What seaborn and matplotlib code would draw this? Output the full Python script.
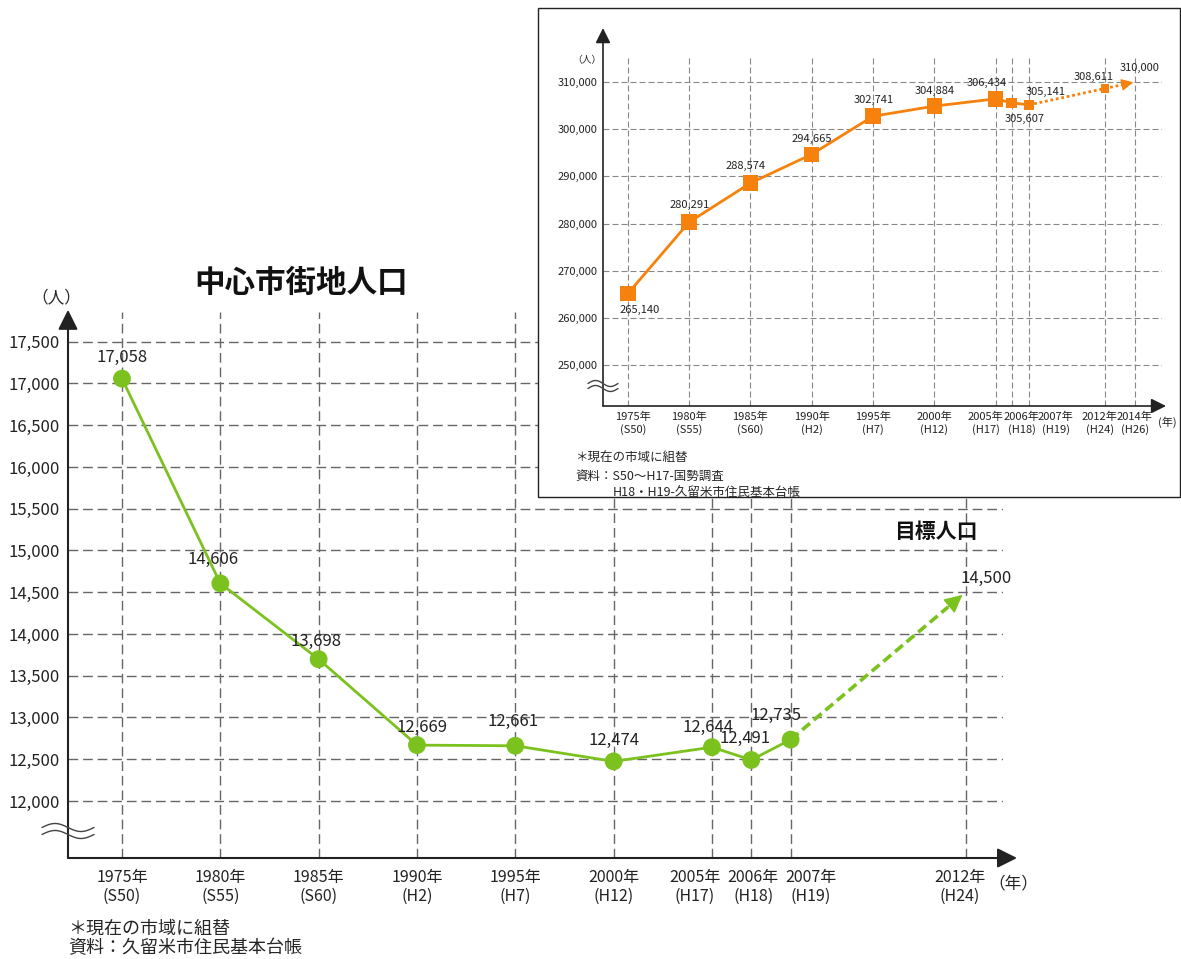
import matplotlib
matplotlib.use("Agg")
import numpy as np
import pandas as pd
import matplotlib.pyplot as plt
from matplotlib.lines import Line2D
from matplotlib.patches import Rectangle
import seaborn as sns

# 中心市街地人口 (main chart)
years = ["1975年", "1980年", "1985年", "1990年", "1995年", "2000年",
         "2005年", "2006年", "2007年", "2012年"]
eras = ["S50", "S55", "S60", "H2", "H7", "H12", "H17", "H18", "H19", "H24"]
pop = [17058, 14606, 13698, 12669, 12661, 12474, 12644, 12491, 12735]
target = 14500  # 2012年 目標人口

# 久留米市人口 (inset)
years_city = ["1975年", "1980年", "1985年", "1990年", "1995年", "2000年",
              "2005年", "2006年", "2007年", "2012年", "2014年"]
eras_city = ["S50", "S55", "S60", "H2", "H7", "H12", "H17", "H18", "H19", "H24", "H26"]
pop_city = [265140, 280291, 288574, 294665, 302741, 304884, 306434, 305607, 305141]
proj_city = [308611, 310000]  # 2012年, 2014年

# the original x axes are not to scale: 5-year steps, then 2006/2007 squeezed in
slot = [0, 1, 2, 3, 4, 5, 6, 6.4, 6.8, 8.58]
slot_city = [0, 1, 2, 3, 4, 5, 6, 6.26, 6.54, 7.78, 8.27]

GREEN = "#7cc21f"
ORANGE = "#f6820d"
W, H = 1181, 959

sns.set_style("white")
plt.rcParams["font.family"] = ["Noto Sans CJK JP", "DejaVu Sans"]

fig = plt.figure(figsize=(W / 100, H / 100), dpi=100)


def px(x, y):
    return x / W, 1 - y / H


def box(l, t, r, b):
    return [l / W, 1 - b / H, (r - l) / W, (b - t) / H]


def wave(cx, cy, w, amp, gap):
    t = np.linspace(-0.5, 0.5, 60)
    for off in (-gap / 2, gap / 2):
        xs = cx + t * w
        ys = cy + off + amp * np.sin(2 * np.pi * t)
        fig.add_artist(Line2D(xs / W, 1 - ys / H, transform=fig.transFigure,
                              color="#444", lw=1, zorder=5))


# ---------------- main chart ----------------
ax = fig.add_axes(box(68, 312, 1003, 858))
ax.set_xlim(-0.549, 8.96)
ax.set_ylim(11317, 17856)
yt = np.arange(12000, 17501, 500)
ax.set_xticks(slot)
ax.set_xticklabels([])
ax.set_yticks(yt)
ax.set_yticklabels([f"{v:,}" for v in yt], fontsize=12, color="#222")
ax.tick_params(length=0, pad=6)
for s in ax.spines.values():
    s.set_visible(False)
ax.grid(True, color="#666", lw=1, ls=(0, (7, 3.5)))
ax.set_axisbelow(True)

hist = pd.DataFrame({"x": slot[:len(pop)], "pop": pop})
sns.lineplot(data=hist, x="x", y="pop", color=GREEN, lw=2, ax=ax, zorder=3)
sns.scatterplot(data=hist, x="x", y="pop", color=GREEN, s=165,
                edgecolor="none", ax=ax, zorder=4)

p0 = np.array([slot[8], pop[-1]], dtype=float)
p1 = np.array([slot[9], target], dtype=float)
mid = p0 + 0.9 * (p1 - p0)
sns.lineplot(x=[p0[0], mid[0]], y=[p0[1], mid[1]], color=GREEN, lw=2.6,
             linestyle=(0, (2.8, 1.4)), ax=ax, zorder=3)
ax.annotate("", xy=p1, xytext=mid,
            arrowprops=dict(arrowstyle="-|>,head_length=0.7,head_width=0.35",
                            color=GREEN, lw=1, shrinkA=0, shrinkB=3,
                            mutation_scale=16), zorder=3)
ax.set_xlabel("")
ax.set_ylabel("")

label_off = [(0, 21), (-7, 24), (-3, 18), (5, 18), (-2, 24), (0, 21),
             (-4, 20), (-6, 22), (-15, 24)]
for x, v, (dx, dy) in zip(slot, pop, label_off):
    ax.annotate(f"{v:,}", xy=(x, v), xytext=(dx, dy), textcoords="offset pixels",
                ha="center", va="center", fontsize=12, color="#222")
ax.annotate(f"{target:,}", xy=(slot[9], target), xytext=(20, 14),
            textcoords="offset pixels", ha="center", va="center",
            fontsize=12, color="#222")

nudge = [0, 0, 0, 0, 0, 0, -17, 2, 20, -6]
for s, yr, era, dx in zip(slot, years, eras, nudge):
    ax.annotate(f"{yr}\n({era})", xy=(s, 0), xycoords=("data", "axes fraction"),
                xytext=(dx, -11), textcoords="offset pixels", ha="center",
                va="top", fontsize=11.5, linespacing=1.15, color="#222",
                annotation_clip=False)

arrow = dict(arrowstyle="-|>,head_length=0.6,head_width=0.3", color="#222",
             lw=1.5, mutation_scale=20, shrinkA=0, shrinkB=0)
ax.annotate("", xy=(1.015, 0), xytext=(0, 0), xycoords="axes fraction",
            arrowprops=arrow, annotation_clip=False)
ax.annotate("", xy=(0, 1.004), xytext=(0, 0), xycoords="axes fraction",
            arrowprops=arrow, annotation_clip=False)

fig.text(*px(301, 283), "中心市街地人口", fontsize=22, fontweight="bold",
         ha="center", va="center", color="#111")
fig.text(*px(56, 298), "（人）", fontsize=12, ha="center", va="center")
fig.text(*px(1013, 884), "（年）", fontsize=12, ha="center", va="center")
fig.text(*px(936, 532), "目標人口", fontsize=15, fontweight="bold",
         ha="center", va="center", color="#111")
fig.text(*px(68, 929), "＊現在の市域に組替", fontsize=13, ha="left", va="center")
fig.text(*px(68, 948), "資料：久留米市住民基本台帳", fontsize=13, ha="left", va="center")
wave(68, 831, 52, 4, 7)

# ---------------- inset: 久留米市人口 ----------------
fig.add_artist(Rectangle(px(538, 497), 642 / W, 489 / H, transform=fig.transFigure,
                         facecolor="white", edgecolor="#222", lw=1, zorder=1))
ax2 = fig.add_axes(box(603, 58, 1162, 406))
ax2.set_zorder(2)
ax2.patch.set_visible(False)
ax2.set_xlim(-0.405, 8.715)
ax2.set_ylim(241310, 315090)
yt2 = np.arange(250000, 310001, 10000)
ax2.set_xticks(slot_city)
ax2.set_xticklabels([])
ax2.set_yticks(yt2)
ax2.set_yticklabels([f"{v:,}" for v in yt2], fontsize=8, color="#222")
ax2.tick_params(length=0, pad=4)
for s in ax2.spines.values():
    s.set_visible(False)
ax2.grid(True, color="#888", lw=0.8, ls=(0, (5.4, 2.7)))
ax2.set_axisbelow(True)

city = pd.DataFrame({"x": slot_city[:len(pop_city)], "pop": pop_city})
sns.lineplot(data=city, x="x", y="pop", color=ORANGE, lw=2, ax=ax2, zorder=3)
sns.scatterplot(data=city.iloc[:7], x="x", y="pop", marker="s", s=125,
                color=ORANGE, edgecolor="none", ax=ax2, zorder=4)
sns.scatterplot(data=city.iloc[7:], x="x", y="pop", marker="s", s=55,
                color=ORANGE, edgecolor="none", ax=ax2, zorder=4)

q0 = np.array([slot_city[8], pop_city[-1]], dtype=float)
q1 = np.array([slot_city[10], proj_city[1]], dtype=float)
qm = np.array([slot_city[9], proj_city[0]], dtype=float)
qe = qm + 0.6 * (q1 - qm)
sns.lineplot(x=[q0[0], qm[0], qe[0]], y=[q0[1], qm[1], qe[1]], color=ORANGE,
             lw=2, linestyle=(0, (1, 1)), ax=ax2, zorder=3)
sns.scatterplot(x=[qm[0]], y=[qm[1]], marker="s", s=35, color=ORANGE,
                edgecolor="none", ax=ax2, zorder=4)
ax2.annotate("", xy=q1, xytext=qe,
             arrowprops=dict(arrowstyle="-|>,head_length=0.6,head_width=0.3",
                             color=ORANGE, lw=1, shrinkA=0, shrinkB=1,
                             mutation_scale=12), zorder=3)
ax2.set_xlabel("")
ax2.set_ylabel("")

city_off = [(12, -16), (1, 17), (-5, 17), (0, 15), (1, 16), (0, 15),
            (-9, 16), (13, -16), (17, 13)]
for x, v, (dx, dy) in zip(slot_city, pop_city, city_off):
    ax2.annotate(f"{v:,}", xy=(x, v), xytext=(dx, dy), textcoords="offset pixels",
                 ha="center", va="center", fontsize=8, color="#222")
for x, v, (dx, dy) in zip(slot_city[9:], proj_city, [(-11, 12), (5, 14)]):
    ax2.annotate(f"{v:,}", xy=(x, v), xytext=(dx, dy), textcoords="offset pixels",
                 ha="center", va="center", fontsize=8, color="#222")

nudge2 = [5, 0, 0, 0, 0, 0, -10, 10, 27, -5, 0]
for s, yr, era, dx in zip(slot_city, years_city, eras_city, nudge2):
    ax2.annotate(f"{yr}\n({era})", xy=(s, 0), xycoords=("data", "axes fraction"),
                 xytext=(dx, -6), textcoords="offset pixels", ha="center",
                 va="top", fontsize=8, linespacing=1.15, color="#222",
                 annotation_clip=False)

arrow2 = dict(arrowstyle="-|>,head_length=0.6,head_width=0.3", color="#222",
              lw=1.2, mutation_scale=15, shrinkA=0, shrinkB=0)
ax2.annotate("", xy=(1.0072, 0), xytext=(0, 0), xycoords="axes fraction",
             arrowprops=arrow2, annotation_clip=False)
ax2.annotate("", xy=(0, 1.086), xytext=(0, 0), xycoords="axes fraction",
             arrowprops=arrow2, annotation_clip=False)

fig.text(*px(587, 60), "（人）", fontsize=7, ha="center", va="center")
fig.text(*px(1167, 422), "(年)", fontsize=8, ha="center", va="center")
fig.text(*px(575, 458), "＊現在の市域に組替", fontsize=9, ha="left", va="center")
fig.text(*px(575, 476), "資料：S50～H17-国勢調査", fontsize=9, ha="left", va="center")
fig.text(*px(613, 492), "H18・H19-久留米市住民基本台帳", fontsize=9, ha="left", va="center")
wave(603, 386, 30, 3, 5)

fig.savefig("out.png", dpi=100)
